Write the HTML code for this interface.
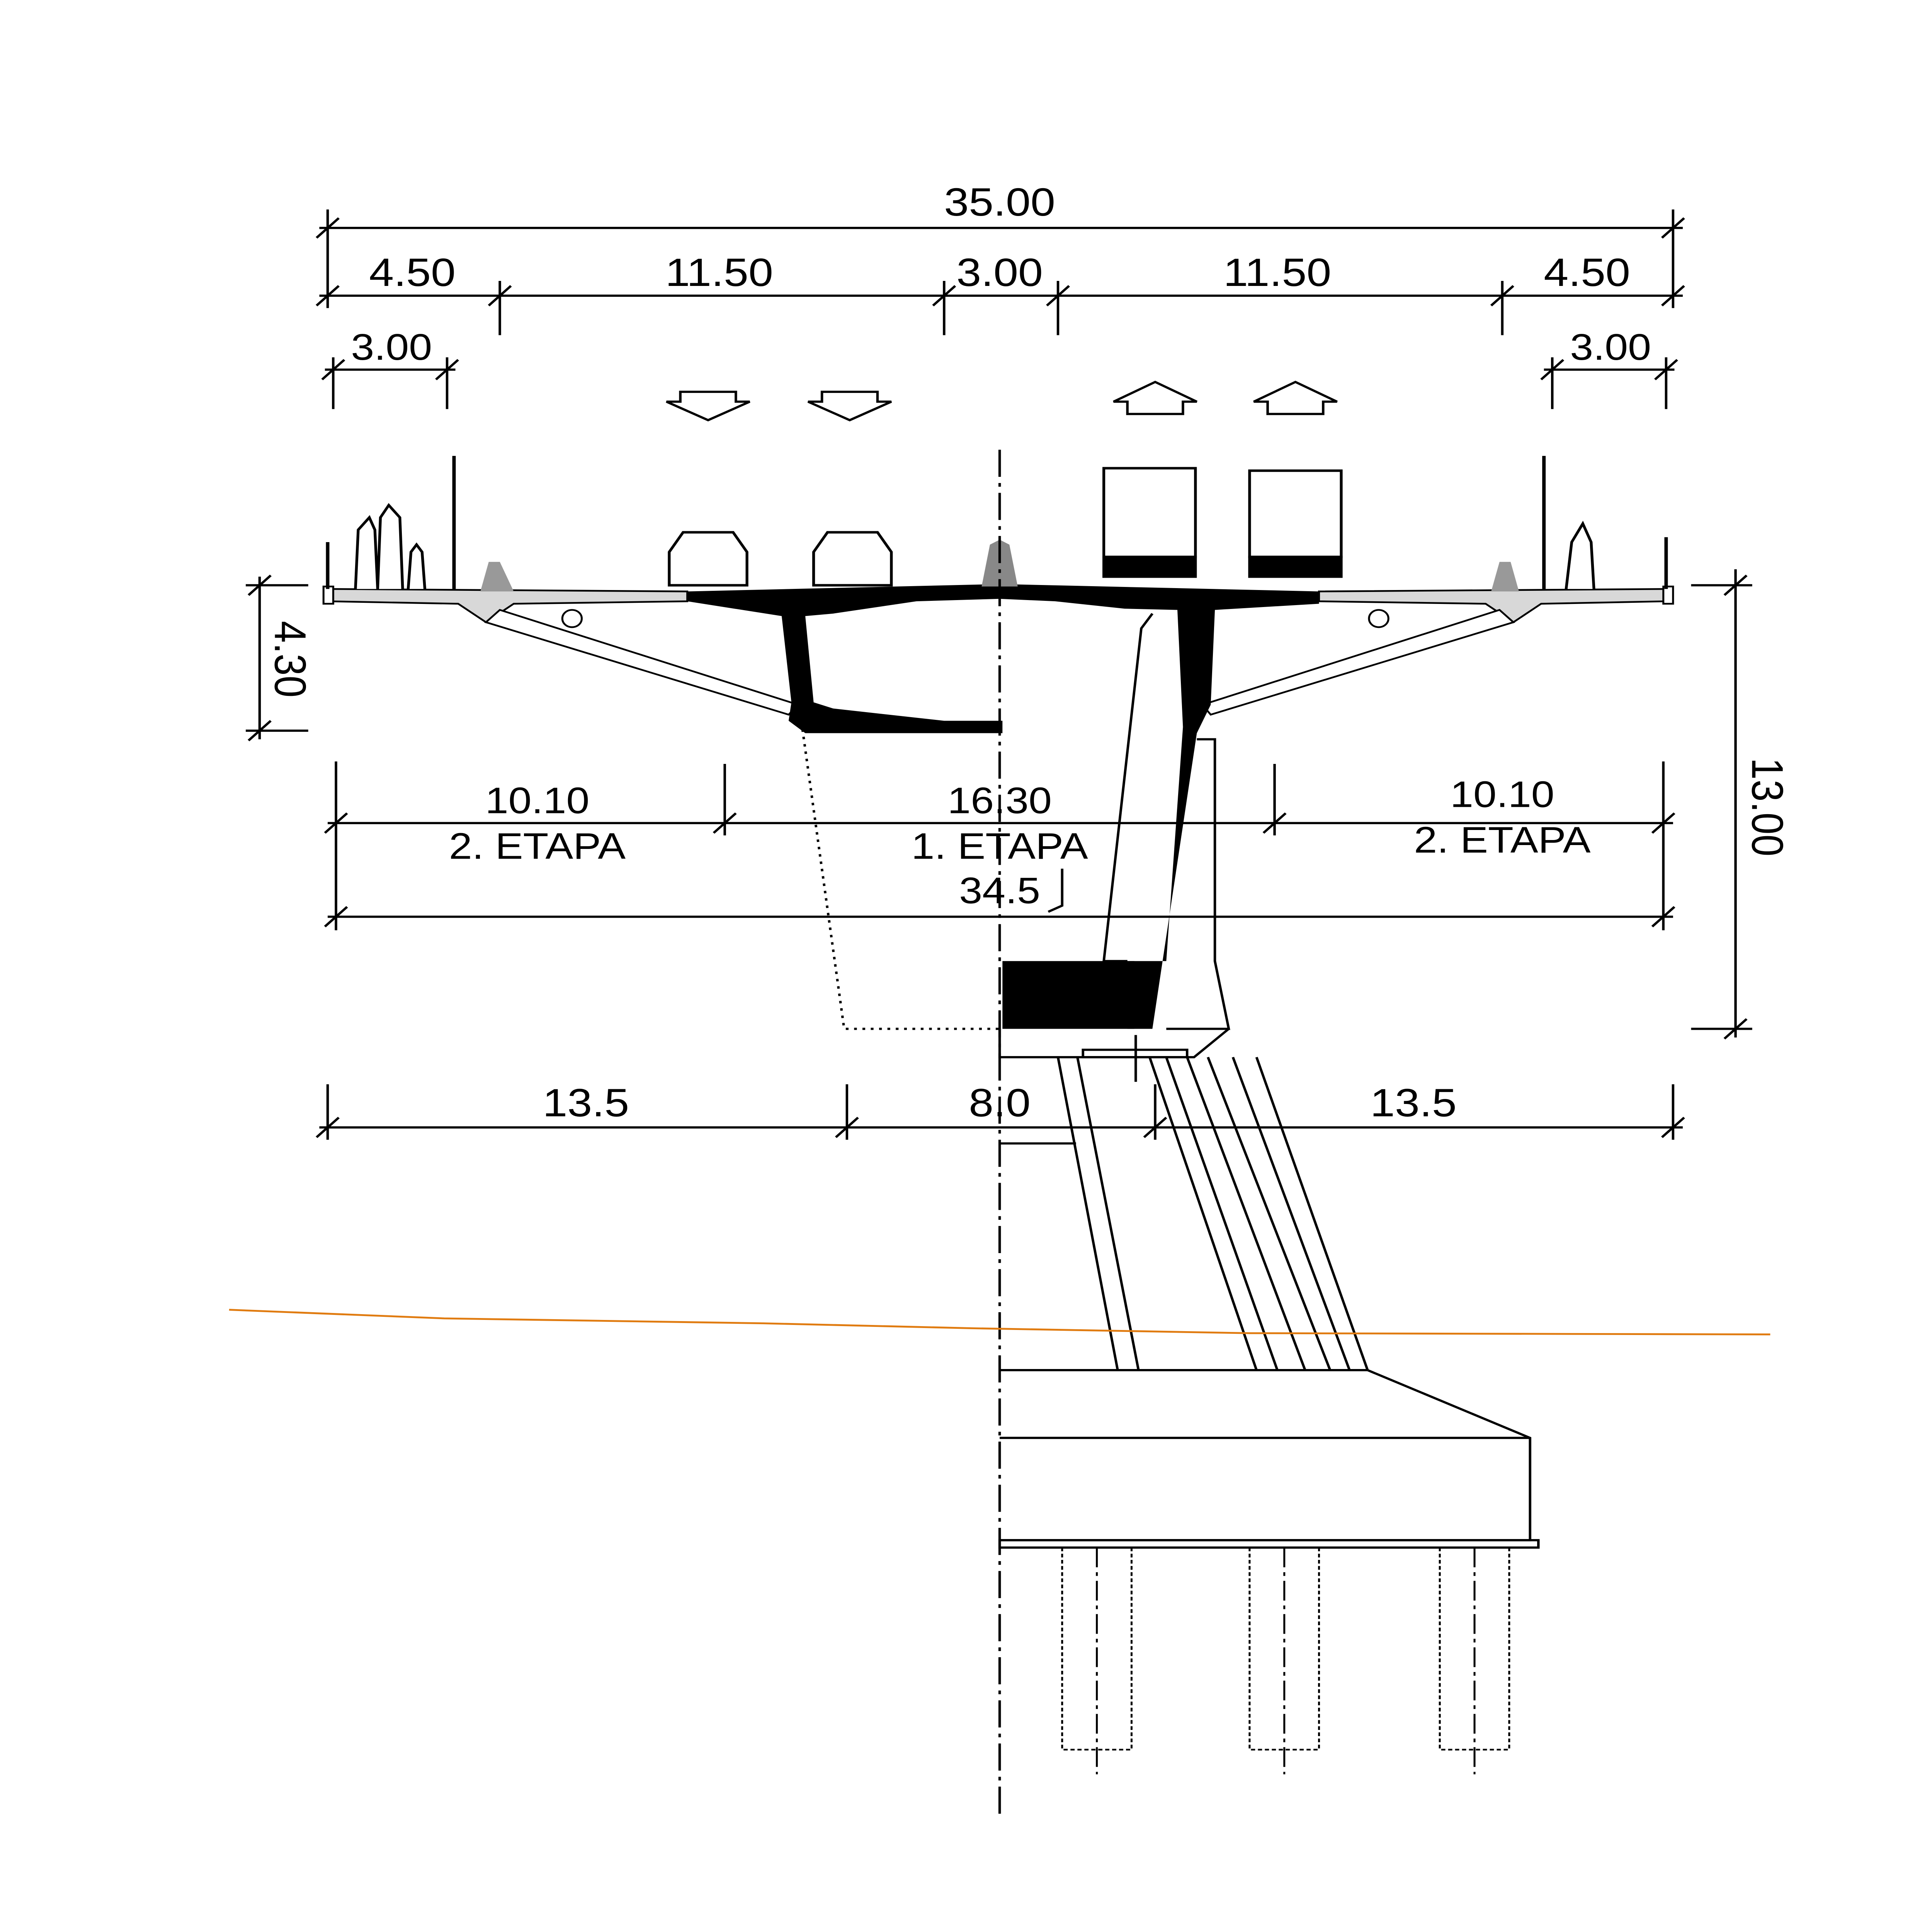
<!DOCTYPE html>
<html><head><meta charset="utf-8"><style>
html,body{margin:0;padding:0;background:#fff;width:100%;height:100%;overflow:hidden}
svg{display:block;width:100vw;height:100vh}
text{font-family:"Liberation Sans",sans-serif;fill:#000}
</style></head><body>
<svg viewBox="0 0 1391.5 1568" preserveAspectRatio="none" xmlns="http://www.w3.org/2000/svg">
<rect width="1391.5" height="1568" fill="#fff"/>
<g stroke="#000" stroke-width="1.8" fill="none">
<line x1="230" y1="185" x2="1212" y2="185"/>
<line x1="236" y1="170" x2="236" y2="250"/><line x1="1205" y1="170" x2="1205" y2="250"/>
<line x1="230" y1="240" x2="1212" y2="240"/>
<line x1="360" y1="228" x2="360" y2="272"/><line x1="680" y1="228" x2="680" y2="272"/>
<line x1="762" y1="228" x2="762" y2="272"/><line x1="1082" y1="228" x2="1082" y2="272"/>
<line x1="234" y1="300" x2="328" y2="300"/><line x1="240" y1="290" x2="240" y2="332"/><line x1="322" y1="290" x2="322" y2="332"/>
<line x1="1112" y1="300" x2="1206" y2="300"/><line x1="1118" y1="290" x2="1118" y2="332"/><line x1="1200" y1="290" x2="1200" y2="332"/>
<path d="M228 193 L244 177 M1197 193 L1213 177 M228 248 L244 232 M352 248 L368 232 M672 248 L688 232 M754 248 L770 232 M1074 248 L1090 232 M1197 248 L1213 232 M232 308 L248 292 M314 308 L330 292 M1110 308 L1126 292 M1192 308 L1208 292"/>
<path d="M490 318 L530 318 L530 326 L540 326 L510 341 L480 326 L490 326 Z"/>
<path d="M592 318 L632 318 L632 326 L642 326 L612 341 L582 326 L592 326 Z"/>
<path d="M812 336 L852 336 L852 326 L862 326 L832 310 L802 326 L812 326 Z"/>
<path d="M913 336 L953 336 L953 326 L963 326 L933 310 L903 326 L913 326 Z"/>
<line x1="187" y1="468" x2="187" y2="600"/><line x1="177" y1="475" x2="222" y2="475"/><line x1="177" y1="593" x2="222" y2="593"/>
<path d="M179 483 L195 467 M179 601 L195 585"/>
<line x1="1250" y1="462" x2="1250" y2="842"/><line x1="1218" y1="475" x2="1262" y2="475"/><line x1="1218" y1="835" x2="1262" y2="835"/>
<path d="M1242 483 L1258 467 M1242 843 L1258 827"/>
<line x1="236" y1="668" x2="1205" y2="668"/>
<line x1="242" y1="618" x2="242" y2="755"/><line x1="522" y1="620" x2="522" y2="678"/><line x1="918" y1="620" x2="918" y2="678"/><line x1="1198" y1="618" x2="1198" y2="755"/>
<path d="M234 676 L250 660 M514 676 L530 660 M910 676 L926 660 M1190 676 L1206 660"/>
<line x1="236" y1="744" x2="1205" y2="744"/>
<path d="M234 752 L250 736 M1190 752 L1206 736"/>
<path d="M755 740 L765 735 L765 705"/>
<line x1="230" y1="915" x2="1212" y2="915"/>
<line x1="236" y1="880" x2="236" y2="925"/><line x1="610" y1="880" x2="610" y2="925"/><line x1="832" y1="880" x2="832" y2="925"/><line x1="1205" y1="880" x2="1205" y2="925"/>
<path d="M228 923 L244 907 M602 923 L618 907 M824 923 L840 907 M1197 923 L1213 907"/>
</g>
<g font-size="32" text-anchor="middle">
<text x="720" y="175">35.00</text>
<text x="297" y="232">4.50</text><text x="518" y="232">11.50</text><text x="720" y="232">3.00</text>
<text x="920" y="232">11.50</text><text x="1143" y="232">4.50</text>
<text x="282" y="292" font-size="30">3.00</text><text x="1160" y="292" font-size="30">3.00</text>
<text x="387" y="660" font-size="30">10.10</text><text x="387" y="697" font-size="30">2. ETAPA</text>
<text x="720" y="660" font-size="30">16.30</text><text x="720" y="697" font-size="30">1. ETAPA</text>
<text x="1082" y="655" font-size="30">10.10</text><text x="1082" y="692" font-size="30">2. ETAPA</text>
<text x="720" y="733" font-size="30">34.5</text>
<text x="422" y="906">13.5</text><text x="720" y="906">8.0</text><text x="1018" y="906">13.5</text>
<text transform="translate(198,535) rotate(90)">4.30</text>
<text transform="translate(1262,655) rotate(90)">13.00</text>
</g>
<g stroke="#000" stroke-width="1.4">
<path d="M236 478 L495 480 L495 488 L370 490 L350 505 L330 490 L236 488 Z" fill="#d8d8d8"/>
<path d="M950 480 L1200 478 L1200 488 L1110 490 L1090 505 L1070 490 L950 488 Z" fill="#d8d8d8"/>
<path d="M350 505 L568 580 L575 572 L360 495 Z" fill="#fff"/>
<path d="M1090 505 L872 580 L866 572 L1080 495 Z" fill="#fff"/>
<circle cx="412" cy="502" r="7" fill="#fff"/><circle cx="993" cy="502" r="7" fill="#fff"/>
<rect x="233" y="476" width="7" height="14" fill="#fff"/><rect x="1198" y="476" width="7" height="14" fill="#fff"/>
</g>
<path d="M495 480 L720 474 L950 480 L950 490 L875 495 L872 572 L862 595 L830 835 L812 835 L812 780 L840 780 L852 590 L848 495 L810 494 L760 488 L720 486 L660 488 L600 498 L580 500 L586 570 L600 575 L680 585 L722 585 L722 595 L580 595 L568 585 L570 570 L563 500 L495 488 Z" fill="#000"/>
<rect x="722" y="780" width="95" height="55" fill="#000"/>
<path d="M707 476 L713 442 L720 438 L727 442 L733 476 Z" fill="#888"/>
<path d="M346 480 L352 456 L360 456 L370 480 Z" fill="#999"/>
<path d="M1074 480 L1080 456 L1088 456 L1094 480 Z" fill="#999"/>
<g stroke="#000" stroke-width="2.5"><line x1="327" y1="370" x2="327" y2="478"/><line x1="1112" y1="370" x2="1112" y2="478"/><line x1="236" y1="440" x2="236" y2="478"/><line x1="1200" y1="436" x2="1200" y2="478"/></g>
<g stroke="#000" stroke-width="2" fill="#fff">
<path d="M482 475 L482 448 L492 432 L528 432 L538 448 L538 475 Z"/>
<path d="M586 475 L586 448 L596 432 L632 432 L642 448 L642 475 Z"/>
<rect x="795" y="380" width="66" height="72"/><rect x="900" y="382" width="66" height="70"/>
<rect x="795" y="452" width="66" height="16" fill="#000"/><rect x="900" y="452" width="66" height="16" fill="#000"/>
<path d="M256 478 L258 430 L266 420 L270 430 L272 478 M272 478 L274 420 L280 410 L288 420 L290 478 M294 478 L296 448 L300 442 L304 448 L306 478 M1128 478 L1132 440 L1140 425 L1146 440 L1148 478"/>
</g>
<g stroke="#000" stroke-width="1.8" fill="none">
<path d="M830 498 L822 510 L795 780 L812 780"/>
<path d="M862 600 L875 600 L875 780 L885 835 L840 835"/>
<path d="M720 835 L720 858 L860 858 L885 835"/>
<path d="M578 592 L608 835 L720 835" stroke-dasharray="2 4"/>
<path d="M762 858 L805 1112 M776 858 L820 1112 M828 858 L905 1112 M840 858 L920 1112 M855 858 L940 1112 M870 858 L958 1112 M888 858 L972 1112 M905 858 L985 1112"/>
<rect x="780" y="852" width="75" height="6"/>
<line x1="818" y1="840" x2="818" y2="878"/>
<line x1="720" y1="928" x2="775" y2="928"/>
<path d="M720 1112 L985 1112 L1102 1167 L1102 1250 L720 1250 M720 1167 L1102 1167"/>
<rect x="720" y="1250" width="388" height="6"/>
</g>
<g stroke="#000" stroke-width="1.4" fill="none">
<path d="M765 1256 L765 1420 L815 1420 L815 1256 M900 1256 L900 1420 L950 1420 L950 1256 M1037 1256 L1037 1420 L1087 1420 L1087 1256" stroke-dasharray="3 2"/>
<path d="M790 1256 L790 1440 M925 1256 L925 1440 M1062 1256 L1062 1440" stroke-dasharray="16 4 3 4"/>
</g>
<line x1="720" y1="365" x2="720" y2="1475" stroke="#000" stroke-width="1.8" stroke-dasharray="22 5 3 5"/>
<path d="M165 1063 L320 1070 L550 1074 L700 1078 L900 1082 L1275 1083" stroke="#e07b10" stroke-width="1.5" fill="none"/>
</svg>
</body></html>
